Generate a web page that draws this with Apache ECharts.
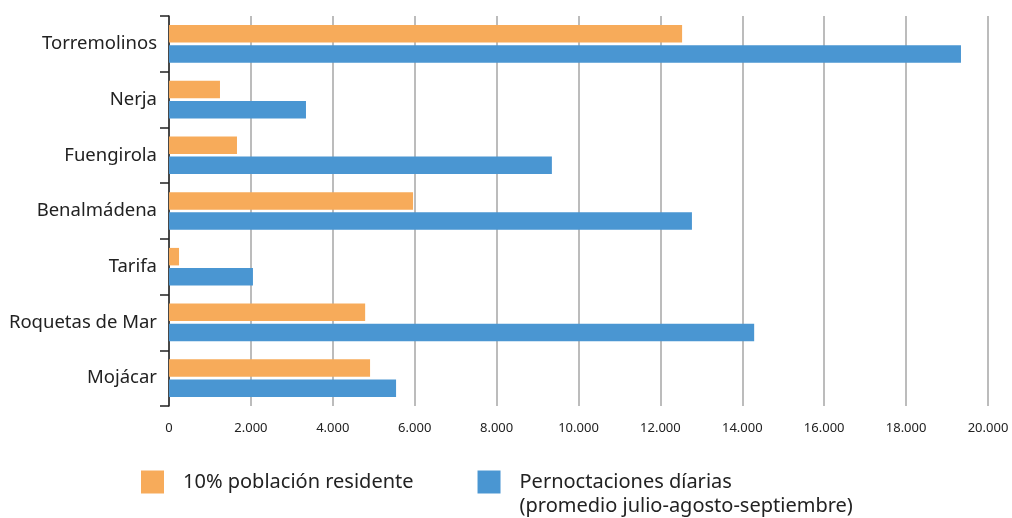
<!DOCTYPE html>
<html>
<head>
<meta charset="utf-8">
<script src="https://cdn.jsdelivr.net/npm/echarts@6/dist/echarts.min.js"></script>
<style>
html,body{margin:0;padding:0;background:#fff;}
#chart{width:1012px;height:518px;}
</style>
</head>
<body>
<div id="chart"></div>
<script>
const categories = ['Torremolinos','Nerja','Fuengirola','Benalmádena','Tarifa','Roquetas de Mar','Mojácar'];
const poblacion = [12530, 1245, 1660, 5960, 245, 4790, 4910];
const pernoctaciones = [19340, 3345, 9350, 12770, 2050, 14290, 5545];
const seriesNames = ['10% población residente', 'Pernoctaciones díarias'];
const legendSecondLine = '(promedio julio-agosto-septiembre)';
const xTicks = {min: 0, max: 20000, interval: 2000};

const chart = echarts.init(document.getElementById('chart'));
const fmt = v => v === 0 ? '0' : String(v).replace(/\B(?=(\d{3})+(?!\d))/g, '.');
chart.setOption({
  animation: false,
  grid: {left: 169, right: 24, top: 16, bottom: 112, containLabel: false},
  legend: {
    left: 136, top: 443,
    itemWidth: 23, itemHeight: 23, itemGap: 64,
    icon: 'rect',
    formatter: name => name === seriesNames[0]
      ? '{t|' + name + '}'
      : '{e| }\n{t|' + name + '}\n{t|' + legendSecondLine + '}',
    textStyle: {
      fontFamily: 'Noto Sans', fontSize: 20, color: '#222',
      rich: {
        t: {fontFamily: 'Noto Sans', fontSize: 20, color: '#222', lineHeight: 24, padding: [0, 0, 0, 14]},
        e: {fontSize: 20, lineHeight: 24}
      }
    },
    data: seriesNames
  },
  xAxis: {
    type: 'value', min: xTicks.min, max: xTicks.max, interval: xTicks.interval,
    axisLine: {show: false}, axisTick: {show: false},
    splitLine: {show: true, lineStyle: {color: '#a6a6a6', width: 1.5}},
    axisLabel: {formatter: fmt, fontFamily: 'Noto Sans', fontSize: 13, color: '#222', margin: 16}
  },
  yAxis: {
    type: 'category', data: categories, inverse: true,
    axisLine: {show: true, lineStyle: {color: '#222', width: 1.5}},
    axisTick: {show: true, inside: false, length: 9, lineStyle: {color: '#222', width: 1.5}},
    axisLabel: {fontFamily: 'Noto Sans', fontSize: 18.5, color: '#222', margin: 12},
    splitLine: {show: false}
  },
  series: [
    {name: seriesNames[0], type: 'bar', data: poblacion, barWidth: 17.5, barGap: '15%',
     itemStyle: {color: '#F7AB5A'}},
    {name: seriesNames[1], type: 'bar', data: pernoctaciones, barWidth: 17.5, barGap: '15%',
     itemStyle: {color: '#4A96D2'}}
  ]
});
</script>
</body>
</html>
